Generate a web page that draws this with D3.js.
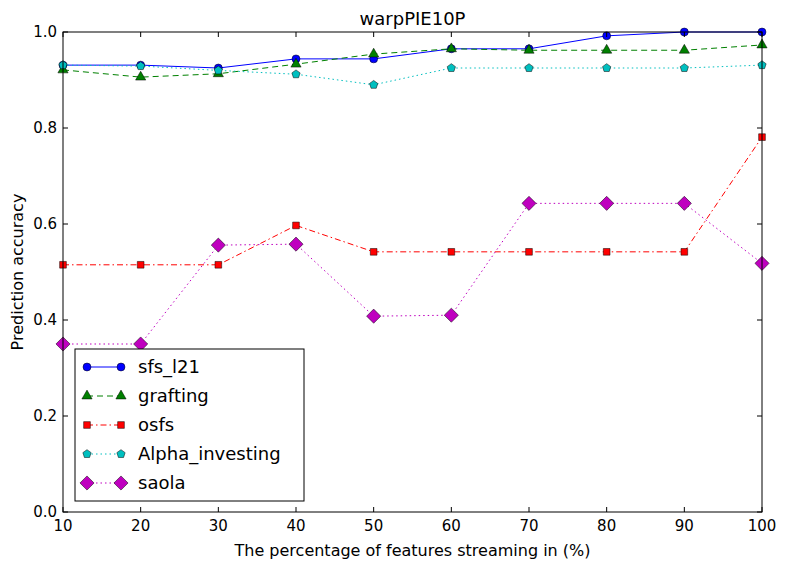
<!DOCTYPE html>
<html><head><meta charset="utf-8">
<script src="https://cdn.jsdelivr.net/npm/d3@7"></script>
<style>body{margin:0;background:#fff}text{font-family:"DejaVu Sans",sans-serif}</style>
</head><body><svg id="c" width="786" height="570"></svg>
<script>
const xs = [10, 20, 30, 40, 50, 60, 70, 80, 90, 100];
const sfs = [0.931, 0.931, 0.925, 0.944, 0.944, 0.965, 0.965, 0.992, 1.0, 1.0];
const grafting = [0.921, 0.906, 0.913, 0.933, 0.954, 0.965, 0.962, 0.962, 0.962, 0.973];
const osfs = [0.515, 0.515, 0.515, 0.597, 0.542, 0.542, 0.542, 0.542, 0.542, 0.781];
const alpha = [0.931, 0.929, 0.920, 0.912, 0.890, 0.925, 0.925, 0.925, 0.925, 0.931];
const saola = [0.350, 0.350, 0.556, 0.558, 0.408, 0.410, 0.643, 0.643, 0.643, 0.518];
const yTicks = [0, 0.2, 0.4, 0.6, 0.8, 1.0];

// pentagon and even diamond symbols
const pent = {draw(ctx, size) {
  const r = Math.sqrt(size / 2.38);
  for (let i = 0; i < 5; i++) {
    const a = -Math.PI / 2 + i * 2 * Math.PI / 5;
    i ? ctx.lineTo(r * Math.cos(a), r * Math.sin(a)) : ctx.moveTo(r * Math.cos(a), r * Math.sin(a));
  }
  ctx.closePath();
}};
const diamond = {draw(ctx, size) {
  const r = Math.sqrt(size / 2);
  ctx.moveTo(0, -r); ctx.lineTo(r, 0); ctx.lineTo(0, r); ctx.lineTo(-r, 0); ctx.closePath();
}};

const series = [
  {name: 'sfs_l21', v: sfs, color: '#0000ff', dash: null, sym: d3.symbolCircle, size: 50},
  {name: 'grafting', v: grafting, color: '#008000', dash: '6,4', sym: d3.symbolTriangle, size: 45},
  {name: 'osfs', v: osfs, color: '#ff0000', dash: '6,3,1.5,3', sym: d3.symbolSquare, size: 45},
  {name: 'Alpha_investing', v: alpha, color: '#00bfbf', dash: '1.5,3', sym: pent, size: 45},
  {name: 'saola', v: saola, color: '#bf00bf', dash: '1.5,3', sym: diamond, size: 100}
];

const svg = d3.select('#c');
const L = 63, R = 762, T = 32, B = 512;
const x = d3.scaleLinear().domain([10, 100]).range([L, R]);
const y = d3.scaleLinear().domain([0, 1]).range([B, T]);

const g = svg.append('g');
series.forEach(s => {
  const line = d3.line().x((d, i) => x(xs[i])).y(d => y(d));
  g.append('path').attr('d', line(s.v)).attr('fill', 'none')
    .attr('stroke', s.color).attr('stroke-width', 1)
    .attr('stroke-dasharray', s.dash);
  g.selectAll(null).data(s.v).enter().append('path')
    .attr('transform', (d, i) => `translate(${x(xs[i])},${y(d)})`)
    .attr('d', d3.symbol().type(s.sym).size(s.size))
    .attr('fill', s.color).attr('stroke', '#000').attr('stroke-width', 0.5);
});

svg.append('rect').attr('x', L).attr('y', T).attr('width', R - L).attr('height', B - T)
  .attr('fill', 'none').attr('stroke', '#000');

xs.forEach(v => {
  svg.append('line').attr('x1', x(v)).attr('x2', x(v)).attr('y1', B).attr('y2', B - 5).attr('stroke', '#000');
  svg.append('line').attr('x1', x(v)).attr('x2', x(v)).attr('y1', T).attr('y2', T + 5).attr('stroke', '#000');
  svg.append('text').attr('x', x(v)).attr('y', B + 19).attr('text-anchor', 'middle').attr('font-size', 15).text(v);
});
yTicks.forEach(v => {
  svg.append('line').attr('x1', L).attr('x2', L + 5).attr('y1', y(v)).attr('y2', y(v)).attr('stroke', '#000');
  svg.append('line').attr('x1', R).attr('x2', R - 5).attr('y1', y(v)).attr('y2', y(v)).attr('stroke', '#000');
  svg.append('text').attr('x', L - 6).attr('y', y(v) + 5).attr('text-anchor', 'end').attr('font-size', 15).text(v.toFixed(1));
});

svg.append('text').attr('x', (L + R) / 2).attr('y', 25).attr('text-anchor', 'middle').attr('font-size', 18).text('warpPIE10P');
svg.append('text').attr('x', (L + R) / 2).attr('y', 556).attr('text-anchor', 'middle').attr('font-size', 16).text('The percentage of features streaming in (%)');
svg.append('text').attr('transform', `translate(23,${(T + B) / 2}) rotate(-90)`).attr('text-anchor', 'middle').attr('font-size', 16).text('Prediction accuracy');

const lg = svg.append('g').attr('transform', 'translate(75,349)');
lg.append('rect').attr('width', 229).attr('height', 152).attr('fill', '#fff').attr('stroke', '#000');
series.forEach((s, i) => {
  const yy = 18 + i * 29;
  lg.append('line').attr('x1', 12).attr('x2', 46).attr('y1', yy).attr('y2', yy)
    .attr('stroke', s.color).attr('stroke-dasharray', s.dash);
  [12, 46].forEach(px => lg.append('path').attr('transform', `translate(${px},${yy})`)
    .attr('d', d3.symbol().type(s.sym).size(s.size)).attr('fill', s.color).attr('stroke', '#000').attr('stroke-width', 0.5));
  lg.append('text').attr('x', 63).attr('y', yy + 6).attr('font-size', 18).text(s.name);
});
</script></body></html>
